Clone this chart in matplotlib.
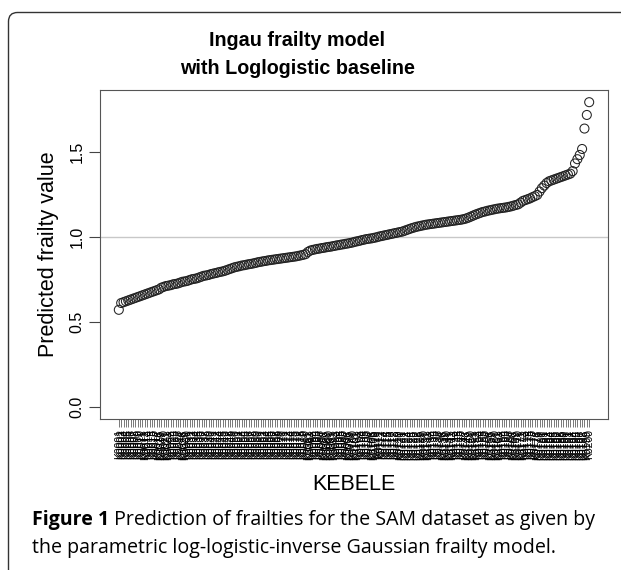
import matplotlib
matplotlib.use("Agg")
import matplotlib.pyplot as plt
from matplotlib.patches import FancyBboxPatch
from matplotlib.transforms import IdentityTransform

# predicted frailty per kebele, already sorted
frailty = [
    0.570, 0.610, 0.615, 0.620, 0.625, 0.630, 0.635, 0.640, 0.645, 0.650,
    0.655, 0.660, 0.665, 0.670, 0.675, 0.680, 0.685, 0.690, 0.700, 0.705,
    0.710, 0.712, 0.715, 0.720, 0.722, 0.725, 0.730, 0.735, 0.737, 0.740,
    0.745, 0.750, 0.752, 0.755, 0.760, 0.765, 0.770, 0.772, 0.775, 0.780,
    0.783, 0.786, 0.790, 0.793, 0.796, 0.800, 0.805, 0.810, 0.815, 0.820,
    0.823, 0.826, 0.830, 0.832, 0.835, 0.838, 0.840, 0.843, 0.846, 0.850,
    0.852, 0.855, 0.857, 0.860, 0.862, 0.864, 0.866, 0.868, 0.870, 0.872,
    0.874, 0.876, 0.878, 0.880, 0.882, 0.884, 0.887, 0.890, 0.893, 0.897,
    0.910, 0.918, 0.922, 0.925, 0.928, 0.930, 0.933, 0.935, 0.938, 0.940,
    0.942, 0.945, 0.948, 0.950, 0.953, 0.955, 0.958, 0.960, 0.963, 0.966,
    0.970, 0.973, 0.976, 0.980, 0.983, 0.986, 0.988, 0.990, 0.993, 0.996,
    1.000, 1.003, 1.006, 1.009, 1.012, 1.015, 1.018, 1.021, 1.024, 1.027,
    1.030, 1.035, 1.040, 1.045, 1.050, 1.054, 1.058, 1.061, 1.064, 1.067,
    1.070, 1.072, 1.074, 1.076, 1.078, 1.080, 1.082, 1.084, 1.086, 1.088,
    1.090, 1.092, 1.094, 1.096, 1.098, 1.100, 1.103, 1.107, 1.112, 1.118,
    1.124, 1.130, 1.135, 1.140, 1.145, 1.148, 1.152, 1.155, 1.158, 1.161,
    1.164, 1.166, 1.168, 1.170, 1.172, 1.175, 1.178, 1.182, 1.186, 1.190,
    1.200, 1.210, 1.215, 1.220, 1.225, 1.232, 1.238, 1.245, 1.265, 1.285,
    1.300, 1.315, 1.325, 1.330, 1.335, 1.340, 1.345, 1.350, 1.355, 1.360,
    1.365, 1.370, 1.385, 1.430, 1.455, 1.480, 1.515, 1.635, 1.715, 1.790,
]
# kebele codes (illegible in the original, overplotted)
kebele = ["K%04d" % (k + 1) for k in range(len(frailty))]
yticks = [0.0, 0.5, 1.0, 1.5]
ytick_labels = ["0.0", "0.5", "1.0", "1.5"]

title_1 = "Ingau frailty model"
title_2 = "with Loglogistic baseline"
caption_bold = "Figure 1"
caption_1 = " Prediction of frailties for the SAM dataset as given by"
caption_2 = "the parametric log-logistic-inverse Gaussian frailty model."

W, H = 621, 570
fig = plt.figure(figsize=(W / 100, H / 100), dpi=100)
fig.patch.set_facecolor("white")

# rounded frame around the figure panel
frame = FancyBboxPatch((8.5, -30), 700, H - 12.5 + 30,
                       boxstyle="round,pad=0,rounding_size=9",
                       transform=IdentityTransform(), fill=False,
                       edgecolor="#333333", linewidth=1.0)
fig.patches.append(frame)

ax = fig.add_axes([100 / W, 1 - 419 / H, 508 / W, 329 / H])
n = len(frailty)
x = list(range(n))
ax.scatter(x, frailty, s=42, facecolors="none", edgecolors="#222222",
           linewidths=0.75, zorder=3)
ax.axhline(1.0, color="#c8c8c8", linewidth=1.0, zorder=1)

# R style 4% padding
pad_x = 0.04 * (n - 1)
ax.set_xlim(-pad_x, n - 1 + pad_x)
ax.set_ylim(0 - 0.04 * 1.79, 1.79 * 1.04)

rc = {"family": ["Liberation Sans", "DejaVu Sans"]}
ax.set_yticks(yticks)
ax.set_yticklabels(ytick_labels, rotation=90, va="center", fontsize=11.5, **rc)
ax.set_xticks(x)
ax.set_xticklabels(kebele, rotation=90, fontsize=7.5, **rc)
ax.tick_params(axis="y", length=8, width=0.8, color="#444444", pad=3)
ax.tick_params(axis="x", length=6, width=0.5, color="#444444", pad=1.5)
for s in ax.spines.values():
    s.set_color("#555555")
    s.set_linewidth(0.8)

ax.set_ylabel("Predicted frailty value", fontsize=15.5, labelpad=8, **rc)
fig.text(354 / W, 1 - 485 / H, "KEBELE", ha="center", va="center",
         fontsize=15.5, **rc)

tf = {"family": ["Liberation Sans", "DejaVu Sans"],
      "fontsize": 14.2, "fontweight": "bold", "ha": "center", "va": "center"}
fig.text(297 / W, 1 - 40 / H, title_1, **tf)
fig.text(297 / W, 1 - 68 / H, title_2, **tf)

# caption, bold lead-in then regular text; scale font to the reference width
cap = {"family": ["Open Sans", "DejaVu Sans"], "fontsize": 12.3}
renderer = fig.canvas.get_renderer()
probe = fig.text(0, 0, caption_bold + caption_1, **cap)
wfit = probe.get_window_extent(renderer).width
probe.remove()
cap["fontsize"] = 12.3 * 565 / wfit
t0 = fig.text(32 / W, 1 - 520 / H, caption_bold, ha="left", va="center",
              fontweight="bold", **cap)
bb = t0.get_window_extent(renderer)
fig.text(bb.x1 / W, 1 - 520 / H, caption_1, ha="left", va="center", **cap)
fig.text(32 / W, 1 - 548 / H, caption_2, ha="left", va="center", **cap)

fig.savefig("out.png", dpi=100)
